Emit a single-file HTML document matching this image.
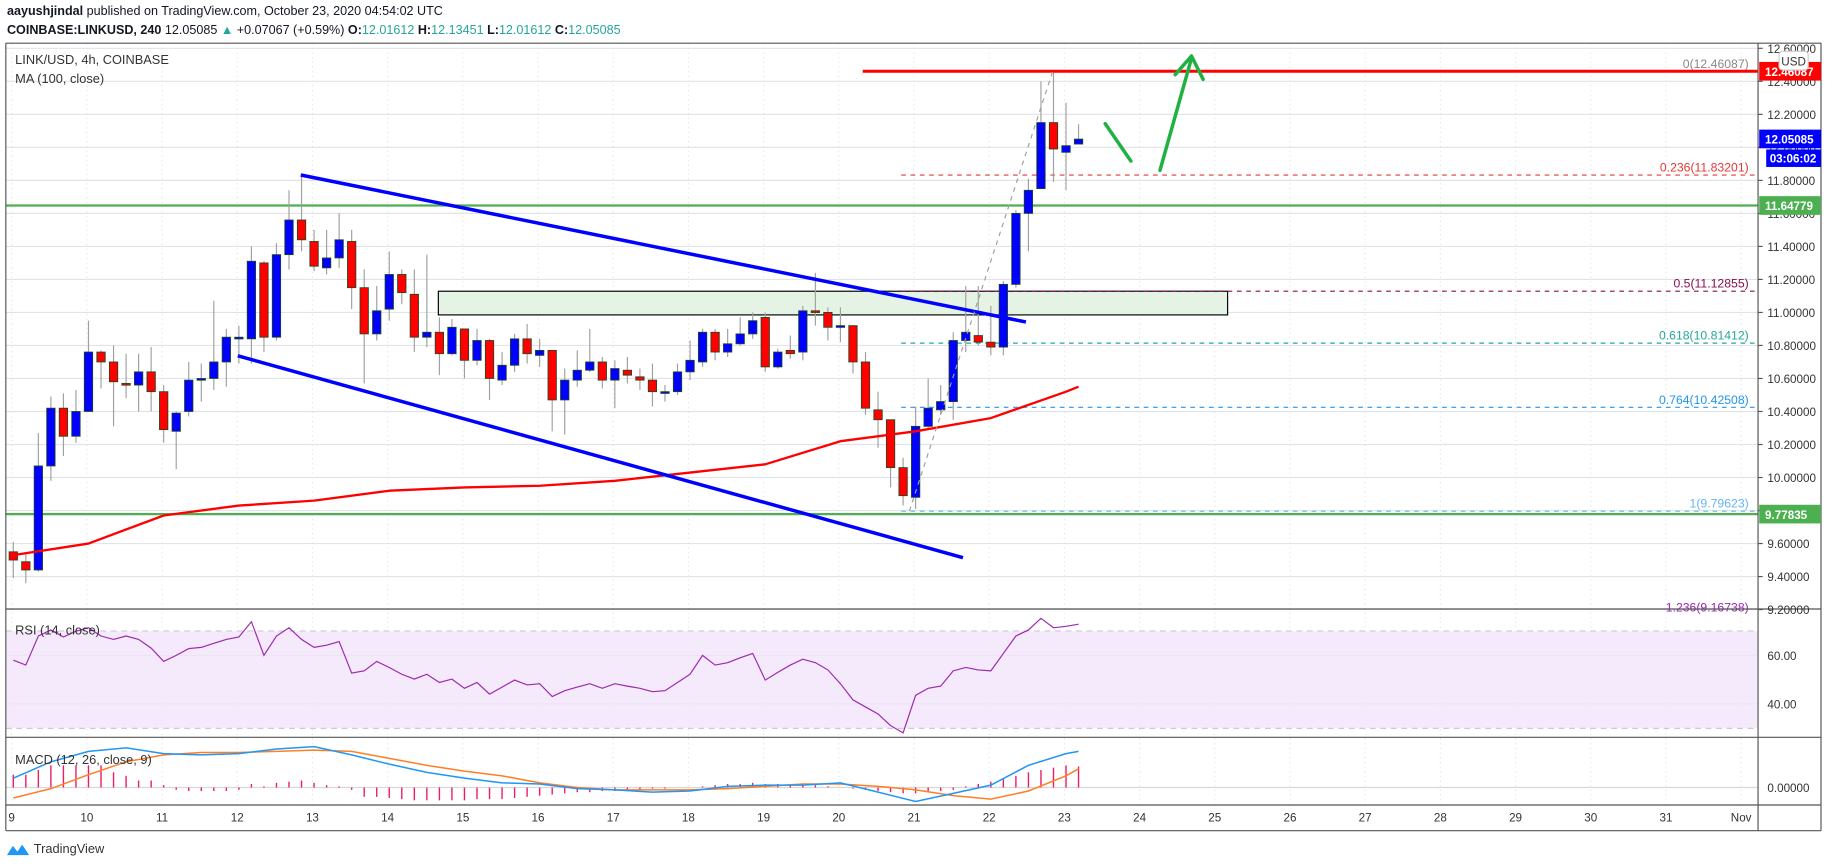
<!DOCTYPE html>
<html><head><meta charset="utf-8">
<style>
html,body{margin:0;padding:0;background:#fff;}
svg{display:block;font-family:"Liberation Sans",sans-serif;}
</style></head>
<body>
<svg id="chart" width="1828" height="868" viewBox="0 0 1568 744" preserveAspectRatio="none" xmlns="http://www.w3.org/2000/svg">
<rect x="0" y="0" width="1568" height="744" fill="#fff"/>
<text x="6" y="13" font-size="10.8" fill="#131722"><tspan font-weight="bold">aayushjindal</tspan> published on TradingView.com, October 23, 2020 04:54:02 UTC</text>
<text x="6" y="29" font-size="10.8" fill="#131722"><tspan font-weight="bold">COINBASE:LINKUSD, 240</tspan>  12.05085 <tspan fill="#26a69a">▲</tspan> +0.07067 (+0.59%) <tspan font-weight="bold">O:</tspan><tspan fill="#26a69a">12.01612</tspan> <tspan font-weight="bold">H:</tspan><tspan fill="#26a69a">12.13451</tspan> <tspan font-weight="bold">L:</tspan><tspan fill="#26a69a">12.01612</tspan> <tspan font-weight="bold">C:</tspan><tspan fill="#26a69a">12.05085</tspan></text>
<g id="grid"></g>
<rect x="5" y="541" width="1503" height="83" fill="#f3e5fc" opacity="0.85"/>
<g id="drawings-back"></g>
<g id="plot"></g>
<g id="drawings"></g>
<g id="axes"></g>
<text x="13" y="55" font-size="11" fill="#333">LINK/USD, 4h, COINBASE</text>
<text x="13" y="71" font-size="11" fill="#333">MA (100, close)</text>
<text x="13" y="544" font-size="11" fill="#333">RSI (14, close)</text>
<text x="13" y="655" font-size="11" fill="#333">MACD (12, 26, close, 9)</text>
<g>
<path d="M6 733 l5 -8 l4 5 l4 -6 l6 9 z" fill="#2196f3"/>
<text x="29" y="731" font-size="11" fill="#333">TradingView</text>
</g>
</svg>
<script>
const openP=[9.55,9.49,9.44,10.07,10.42,10.25,10.40,10.76,10.70,10.57,10.56,10.64,10.52,10.28,10.40,10.60,10.60,10.70,10.85,10.84,11.30,10.85,11.35,11.56,11.43,11.27,11.33,11.43,11.15,10.87,11.02,11.23,11.11,10.85,10.88,10.75,10.90,10.71,10.83,10.59,10.68,10.84,10.74,10.77,10.47,10.59,10.65,10.70,10.59,10.65,10.61,10.59,10.51,10.52,10.64,10.70,10.88,10.76,10.81,10.87,10.97,10.67,10.77,10.76,11.01,11.00,10.92,10.92,10.70,10.41,10.35,10.06,9.88,10.31,10.41,10.46,10.83,10.86,10.82,10.79,11.17,11.60,11.75,12.15,11.97,12.02];
const closeP=[9.50,9.44,10.07,10.42,10.25,10.40,10.76,10.70,10.58,10.56,10.64,10.52,10.29,10.39,10.59,10.60,10.70,10.85,10.85,11.31,10.85,11.35,11.56,11.44,11.28,11.33,11.44,11.15,10.87,11.01,11.23,11.12,10.85,10.88,10.75,10.91,10.71,10.83,10.60,10.68,10.84,10.75,10.77,10.47,10.59,10.65,10.70,10.59,10.66,10.62,10.59,10.52,10.52,10.64,10.71,10.88,10.76,10.81,10.87,10.95,10.67,10.76,10.75,11.01,11.00,10.91,10.92,10.70,10.42,10.35,10.06,9.89,10.31,10.42,10.46,10.83,10.88,10.82,10.79,11.17,11.60,11.74,12.15,11.99,12.01,12.05];
const highP=[9.61,9.54,10.27,10.49,10.51,10.53,10.95,10.77,10.80,10.75,10.75,10.79,10.56,10.40,10.70,10.69,11.07,10.90,10.92,11.40,11.31,11.42,11.74,11.83,11.50,11.50,11.60,11.50,11.26,11.16,11.37,11.26,11.26,11.35,10.97,10.96,10.90,10.90,10.84,10.76,10.87,10.93,10.84,10.77,10.66,10.77,10.90,10.73,10.71,10.73,10.66,10.69,10.56,10.69,10.83,10.90,10.90,10.90,10.97,11.00,11.00,10.78,10.86,11.04,11.24,11.03,11.03,10.92,10.76,10.52,10.35,10.12,10.43,10.60,10.56,10.88,11.16,11.16,11.04,11.19,11.62,11.81,12.40,12.46,12.27,12.14];
const lowP=[9.39,9.36,9.43,9.98,10.13,10.21,10.40,10.54,10.31,10.48,10.40,10.40,10.21,10.05,10.37,10.46,10.53,10.55,10.69,10.69,10.76,10.83,11.26,11.37,11.25,11.23,11.27,11.02,10.57,10.83,10.95,11.05,10.76,10.79,10.62,10.74,10.60,10.68,10.47,10.56,10.64,10.69,10.67,10.28,10.26,10.55,10.64,10.54,10.42,10.57,10.53,10.43,10.46,10.50,10.59,10.67,10.71,10.73,10.80,10.84,10.64,10.66,10.72,10.71,10.92,10.83,10.82,10.63,10.38,10.18,9.94,9.83,9.81,10.30,10.38,10.35,10.76,10.80,10.74,10.74,11.15,11.37,11.75,11.79,11.74,12.02];
const maIdx=[0,6,12,18,24,30,36,42,48,54,60,66,72,78,84,85];
const maVal=[9.53,9.60,9.77,9.83,9.86,9.92,9.94,9.95,9.98,10.03,10.08,10.22,10.28,10.36,10.52,10.55];
const rsiVal=[58,56,68,70.5,67.6,70,71.4,68,66.6,68,66.6,63,57.5,60,62.8,63.3,65,66.6,67.6,73.9,60,68,71.4,66.6,63.3,64.2,65.7,52.7,53.6,57.5,55,52.2,50.2,52.2,48.8,50.2,46.4,48.8,44,46.9,49.8,47.8,48.3,43,45.4,46.9,48.3,46.4,48.3,47.3,46.4,45,45.4,48.8,52.2,60,56,57,59,60.8,49.8,53,56,58.4,57,54,48.3,41.6,38.7,35.8,31,28,43.5,46.4,47.3,53.6,55,54,53.6,60.8,68,70.5,75.3,71.4,72,72.9];
const macdIdx=[0,3,6,9,12,15,18,21,24,27,30,33,36,39,42,45,48,51,54,57,60,63,66,69,72,75,78,81,84,85];
const macdVal=[8,22,31,34,29,28,29,33,35,28,20,13,8,4,3,-1,-2,-4,-3,1,2,2,4,-4,-12,-5,2,19,29,31];
const signalVal=[-9,-1,11,22,28,30,30,31,32,31,25,19,14,10,4,0,-2,-2,-2,-1,1,3,3,1,-2,-7,-10,-3,10,16];
const histVal=[11,11,15,19,19,19,19,19,13,10,6,6,2,-2,-3,-3,-3,-3,-2,3,1,4,5,6,4,2,1,-2,-8,-8,-9,-10,-11,-11,-11,-11,-11,-10,-10,-10,-9,-8,-7,-6,-5,-4,-4,-3,-3,-2,-2,-1,-1,0,0,1,2,3,3,4,3,3,2,3,2,1,0,-1,-2,-3,-4,-5,-5,-4,-3,-2,1,3,5,7,10,13,15,17,19,18];
const priceTicks=[12.6,12.4,12.2,12.0,11.8,11.6,11.4,11.2,11.0,10.8,10.6,10.4,10.2,10.0,9.8,9.6,9.4,9.2];
const dayLabels=["9","10","11","12","13","14","15","16","17","18","19","20","21","22","23","24","25","26","27","28","29","30","31","Nov"];
const rsiTicks=[60,40];

const NS="http://www.w3.org/2000/svg";
function mk(tag,attrs,parent){const e=document.createElementNS(NS,tag);for(const k in attrs)e.setAttribute(k,attrs[k]);parent.appendChild(e);return e;}
const xC=i=>11.4+i*10.75;
const xDay=d=>10+d*64.5;
const yP=p=>98+(12.2-p)*141.5;
const yR=v=>541+(70-v)*2.075;
const yM=v=>675-v;
const grid=document.getElementById('grid'),plot=document.getElementById('plot'),axes=document.getElementById('axes'),dr=document.getElementById('drawings'),drb=document.getElementById('drawings-back');

priceTicks.forEach(p=>{const l=mk('line',{x1:5,x2:1508,y1:yP(p),y2:yP(p),stroke:'#e1e3ea','stroke-width':1},grid);

});
dayLabels.forEach((d,i)=>{const l=mk('line',{x1:xDay(i),x2:xDay(i),y1:37,y2:690,stroke:'#e1e3ea','stroke-dasharray':'1,3','stroke-width':1},grid);

});
[60,40].forEach(v=>{const l=mk('line',{x1:5,x2:1508,y1:yR(v),y2:yR(v),stroke:'#d7d0de'},grid);

});
[70,30].forEach(v=>{const l=mk('line',{x1:5,x2:1508,y1:yR(v),y2:yR(v),stroke:'#b0a8b8','stroke-dasharray':'5,4'},grid);

});
mk('line',{x1:5,x2:1508,y1:yM(0),y2:yM(0),stroke:'#d8d8d8'},grid);

const box=mk('rect',{x:376,y:yP(11.1285),width:677,height:yP(10.985)-yP(11.1285),fill:'#e4f3e4',stroke:'#000','stroke-width':1},drb);



const fibs=[[12.46087,'0(12.46087)','#888',null],[11.83201,'0.236(11.83201)','#e53935','4,4'],[11.12855,'0.5(11.12855)','#880e4f','4,4'],[10.81412,'0.618(10.81412)','#26a69a','4,4'],[10.42508,'0.764(10.42508)','#2196f3','4,4'],[9.79623,'1(9.79623)','#64b5f6','4,4'],[9.16738,'1.236(9.16738)','#9c27b0',null]];
fibs.forEach(f=>{if(f[3]){const l=mk('line',{x1:773,x2:1505,y1:yP(f[0]),y2:yP(f[0]),stroke:f[2],'stroke-dasharray':f[3],'stroke-width':1},drb);

}
const t=mk('text',{x:1500,y:yP(f[0])-3,'font-size':10.5,'text-anchor':'end',fill:f[2]},dr);t.textContent=f[1];

});

[[11.64779,'#4caf50'],[9.77835,'#4caf50']].forEach(h=>{const l=mk('line',{x1:5,x2:1508,y1:yP(h[0]),y2:yP(h[0]),stroke:h[1],'stroke-width':2},drb);

});

openP.forEach((o,i)=>{const c=closeP[i],x=xC(i);const up=c>=o;
const w=mk('line',{x1:x,x2:x,y1:yP(highP[i]),y2:yP(lowP[i]),stroke:'#a0a0a0','stroke-width':1},plot);


const top=yP(Math.max(o,c)),bot=yP(Math.min(o,c));
const b=mk('rect',{x:x-3.6,y:top,width:7.2,height:Math.max(1.5,bot-top),fill:up?'#0000ff':'#ff0000',stroke:'#1e4620','stroke-width':0.7},plot);

});

let d='';maIdx.forEach((k,j)=>{d+=(j?'L':'M')+xC(k)+' '+yP(maVal[j]);});
const ma=mk('path',{d:d,fill:'none',stroke:'#ff0000','stroke-width':2,'stroke-linejoin':'round'},plot);



d='';rsiVal.forEach((v,i)=>{d+=(i?'L':'M')+xC(i)+' '+yR(v);});
const rs=mk('path',{d:d,fill:'none',stroke:'#9c27b0','stroke-width':1},plot);



histVal.forEach((v,i)=>{const b=mk('line',{x1:xC(i),x2:xC(i),y1:yM(0),y2:yM(v),stroke:'#ec1c6b','stroke-width':1.2},plot);

});
d='';macdIdx.forEach((k,j)=>{d+=(j?'L':'M')+xC(k)+' '+yM(signalVal[j]);});
const sg=mk('path',{d:d,fill:'none',stroke:'#ff7f27','stroke-width':1.3},plot);


d='';macdIdx.forEach((k,j)=>{d+=(j?'L':'M')+xC(k)+' '+yM(macdVal[j]);});
const mc=mk('path',{d:d,fill:'none',stroke:'#2196f3','stroke-width':1.3},plot);



const ch1=mk('line',{x1:258,y1:150,x2:880,y2:276,stroke:'#0000ff','stroke-width':3},dr);


const ch2=mk('line',{x1:204,y1:305,x2:826,y2:478,stroke:'#0000ff','stroke-width':3},dr);


const res=mk('line',{x1:740,y1:yP(12.46087),x2:1508,y2:yP(12.46087),stroke:'#ff0000','stroke-width':2.5},dr);


const fb=mk('line',{x1:780,y1:yP(9.79623),x2:903,y2:yP(12.46087),stroke:'#9e9e9e','stroke-width':1,'stroke-dasharray':'4,4'},dr);


const ar=mk('path',{d:'M948 106 L970 138 M995 146 L1022 50 M1008 64 L1022 48 L1032 68',fill:'none',stroke:'#1fb141','stroke-width':3,'stroke-linecap':'round','stroke-linejoin':'round'},dr);



[[5,37,1562,37],[5,712,1562,712],[5,37,5,712],[1562,37,1562,712],[1508,37,1508,712],[5,522,1562,522],[5,632,1562,632],[5,690,1562,690]].forEach(a=>{mk('line',{x1:a[0],y1:a[1],x2:a[2],y2:a[3],stroke:'#555','stroke-width':1},axes);});

priceTicks.forEach(p=>{const y=yP(p);mk('line',{x1:1508,x2:1512,y1:y,y2:y,stroke:'#555'},axes);
const t=mk('text',{x:1516,y:y+4,'font-size':10,fill:'#333'},axes);t.textContent=p.toFixed(5);

});
rsiTicks.forEach(v=>{const t=mk('text',{x:1516,y:yR(v)+4,'font-size':10,fill:'#333'},axes);t.textContent=v.toFixed(2);

});
const zt=mk('text',{x:1516,y:yM(0)+4,'font-size':10,fill:'#333'},axes);zt.textContent='0.00000';


dayLabels.forEach((l,i)=>{const t=mk('text',{x:xDay(i),y:704,'font-size':10,'text-anchor':'middle',fill:'#333'},axes);t.textContent=l;

});

[[12.46087,'12.46087','#ff0000'],[12.05085,'12.05085','#0000ff'],[11.64779,'11.64779','#4caf50'],[9.77835,'9.77835','#4caf50']].forEach(t=>{const y=yP(t[0]);
const r=mk('rect',{x:1509,y:y-8,width:53,height:16,fill:t[2]},axes);


const tx=mk('text',{x:1514,y:y+4,'font-size':10,'font-weight':'bold',fill:'#fff'},axes);tx.textContent=t[1];

});
const cd=mk('rect',{x:1515,y:yP(12.05085)+9,width:47,height:15,fill:'#0000ff'},axes);


const cdt=mk('text',{x:1518,y:yP(12.05085)+20,'font-size':10,'font-weight':'bold',fill:'#fff'},axes);cdt.textContent='03:06:02';


const ub=mk('rect',{x:1526,y:44,width:25,height:16,rx:3,fill:'#fff',stroke:'#ccc'},axes);


const ut=mk('text',{x:1538.5,y:56,'font-size':10,'text-anchor':'middle',fill:'#333'},axes);ut.textContent='USD';


</script>
</body></html>
